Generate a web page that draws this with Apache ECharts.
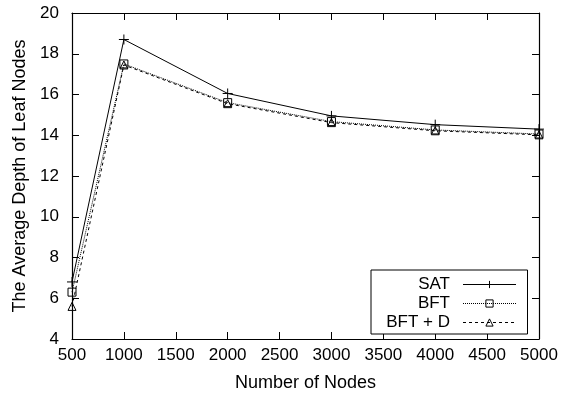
<!DOCTYPE html>
<html><head><meta charset="utf-8">
<script src="https://cdn.jsdelivr.net/npm/echarts@6/dist/echarts.min.js"></script>
<style>html,body{margin:0;padding:0;background:#fff}#c{width:574px;height:397px}</style>
</head><body><div id="c"></div>
<script>
const xNodes = [500, 1000, 2000, 3000, 4000, 5000];
const satValues = [6.8, 18.7, 16.05, 14.95, 14.52, 14.3];
const bftValues = [6.3, 17.5, 15.6, 14.67, 14.26, 14.06];
const bftdValues = [5.6, 17.45, 15.55, 14.62, 14.22, 14.02];
const seriesNames = ['SAT', 'BFT', 'BFT + D'];
const xTitle = 'Number of Nodes';
const yTitle = 'The Average Depth of Leaf Nodes';

const pair = v => xNodes.map((x, i) => [x, v[i]]);
const font = 'Liberation Sans, Arial, Helvetica, sans-serif';
const plus = 'path://M5,0L5,10M0,5L10,5';
const mk = (name, vals, symbol, size, ltype) => ({
  name, type: 'line', data: pair(vals), symbol, symbolSize: size,
  showAllSymbol: true,
  lineStyle: { color: '#000', width: 1, type: ltype },
  itemStyle: { color: 'rgba(0,0,0,0)', borderColor: '#000', borderWidth: 1 },
  emphasis: { disabled: true }, animation: false
});
const chart = echarts.init(document.getElementById('c'));
const tickCommon = { show: true, inside: true, length: 7, lineStyle: { color: '#000', width: 1 } };
const lab = { fontFamily: font, fontSize: 17, color: '#000' };
chart.setOption({
  animation: false,
  grid: { left: 72, right: 35, top: 13, bottom: 54 },
  xAxis: [{
    type: 'value', min: 500, max: 5000, interval: 500,
    name: xTitle, nameLocation: 'middle', nameGap: 35,
    nameTextStyle: { fontFamily: font, fontSize: 18, color: '#000' },
    axisLine: { show: true, lineStyle: { color: '#000', width: 1.2 } },
    axisTick: tickCommon, splitLine: { show: false },
    axisLabel: Object.assign({ margin: 8, formatter: v => String(v) }, lab)
  }, {
    type: 'value', min: 500, max: 5000, interval: 500, position: 'top',
    axisLine: { show: true, lineStyle: { color: '#000', width: 1.2 } },
    axisTick: tickCommon, splitLine: { show: false }, axisLabel: { show: false }
  }],
  yAxis: [{
    type: 'value', min: 4, max: 20, interval: 2,
    name: yTitle, nameLocation: 'middle', nameGap: 41,
    nameTextStyle: { fontFamily: font, fontSize: 18, color: '#000' },
    axisLine: { show: true, lineStyle: { color: '#000', width: 1.2 } },
    axisTick: tickCommon, splitLine: { show: false },
    axisLabel: Object.assign({ margin: 13 }, lab)
  }, {
    type: 'value', min: 4, max: 20, interval: 2, position: 'right',
    axisLine: { show: true, lineStyle: { color: '#000', width: 1.2 } },
    axisTick: tickCommon, splitLine: { show: false }, axisLabel: { show: false }
  }],
  legend: {
    orient: 'vertical', left: 371, top: 270,
    backgroundColor: '#fff', borderColor: '#000', borderWidth: 1,
    padding: [6, 11, 3, 7], itemGap: 2, itemWidth: 53, itemHeight: 9,
    align: 'right',
    lineStyle: { width: 1 },
    itemStyle: { borderWidth: 1 },
    textStyle: { fontFamily: font, fontSize: 17, lineHeight: 17, color: '#000', width: 72, align: 'right', padding: [0, 8, 0, 0] },
    data: seriesNames
  },
  series: [
    mk(seriesNames[0], satValues, plus, 10, 'solid'),
    mk(seriesNames[1], bftValues, 'rect', 8, [1, 1]),
    mk(seriesNames[2], bftdValues, 'triangle', 8, [3, 3])
  ]
});
</script></body></html>
